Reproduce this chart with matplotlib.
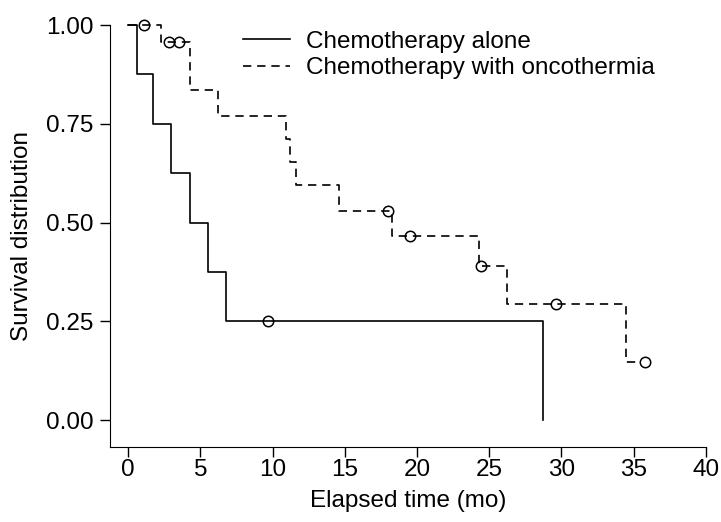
import matplotlib.pyplot as plt

plt.rcParams['font.family'] = ['Liberation Sans', 'DejaVu Sans']

# Chemotherapy alone: step times and survival after each step
alone_t = [0, 0.6, 1.7, 3.0, 4.3, 5.5, 6.8, 28.7]
alone_s = [1.0, 0.875, 0.75, 0.625, 0.5, 0.375, 0.25, 0.0]
alone_cens_t = [9.7]
alone_cens_s = [0.25]

# Chemotherapy with oncothermia
onco_t = [0, 2.3, 4.3, 6.25, 10.9, 11.2, 11.6, 14.6, 18.3, 24.3, 26.2, 34.5, 35.45]
onco_s = [1.0, 0.958, 0.835, 0.77, 0.711, 0.653, 0.595, 0.53, 0.465, 0.39, 0.293, 0.146, 0.146]
onco_cens_t = [1.1, 2.8, 3.55, 18.0, 19.5, 24.4, 29.6, 35.8]
onco_cens_s = [1.0, 0.958, 0.958, 0.53, 0.465, 0.39, 0.293, 0.146]

xticks = [0, 5, 10, 15, 20, 25, 30, 35, 40]
yticks = [0.0, 0.25, 0.5, 0.75, 1.0]

fs = 17.5

fig = plt.figure(figsize=(7.21, 5.22), dpi=100)
ax = fig.add_axes([0.1526, 0.1437, 0.8264, 0.8083])

dash = (0, (5, 3.5))
ax.step(alone_t, alone_s, where='post', color='black', lw=1.2,
        clip_on=False, label='Chemotherapy alone')
ax.step(onco_t, onco_s, where='post', color='black', lw=1.2, linestyle=dash,
        clip_on=False, label='Chemotherapy with oncothermia')
# censored observations: open circles, line shows through
ax.plot(alone_cens_t, alone_cens_s, 'o', mfc='none', mec='black', mew=1.1,
        ms=7.5, clip_on=False, zorder=3)
ax.plot(onco_cens_t, onco_cens_s, 'o', mfc='none', mec='black', mew=1.1,
        ms=7.5, clip_on=False, zorder=3)

ax.set_xlim(-1.25, 40)
ax.set_ylim(-0.068, 1.0)
ax.set_xticks(xticks)
ax.set_yticks(yticks)
ax.set_yticklabels(['%.2f' % v for v in yticks])
ax.spines['top'].set_visible(False)
ax.spines['right'].set_visible(False)
ax.tick_params(direction='out', length=7, width=1, labelsize=fs)
ax.tick_params(axis='x', pad=2)
ax.tick_params(axis='y', pad=5)
ax.set_xlabel('Elapsed time (mo)', fontsize=fs, labelpad=6)
ax.set_ylabel('Survival distribution', fontsize=fs, labelpad=9)

ax.legend(loc='upper left', bbox_to_anchor=(0.223, 0.986), frameon=False,
          fontsize=fs, handlelength=1.95, handletextpad=0.65,
          labelspacing=0.17, borderpad=0, borderaxespad=0)

fig.savefig('out.png', dpi=100)
